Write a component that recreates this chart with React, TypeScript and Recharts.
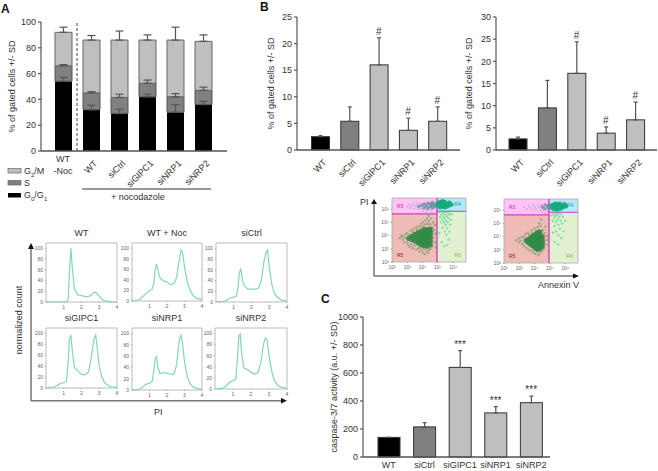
import {
  Bar,
  ComposedChart,
  ErrorBar,
  LabelList,
  Line,
  LineChart,
  ReferenceArea,
  ReferenceLine,
  Scatter,
  ScatterChart,
  XAxis,
  YAxis,
} from "recharts";

const FONT = "'Liberation Sans', Arial, sans-serif";
const INK = "#333";
const AXIS = "#555";
const BLACK = "#000";
const DARK = "#808080";
const LIGHT = "#bfbfbf";

// panel A: stacked cell cycle fractions
const cycleNames = ["WT -Noc", "WT", "siCtrl", "siGIPC1", "siNRP1", "siNRP2"];
const g1Values = [54, 32, 29, 42, 30, 36];
const g1Errors = [3, 3.5, 3.5, 2, 6, 2.5];
const sValues = [12, 13, 12.5, 10.5, 12, 11];
const sErrors = [1, 1, 2.5, 2.5, 2.5, 2.5];
const g2Values = [26, 41, 44.5, 33.5, 44, 38];
const g2Errors = [4, 3.5, 7, 4, 10, 5];

// panel B and C bars
const barNames = ["WT", "siCtrl", "siGIPC1", "siNRP1", "siNRP2"];
const barColors = [BLACK, DARK, LIGHT, LIGHT, LIGHT];
const b1Values = [2.5, 5.4, 16, 3.7, 5.4];
const b1Errors = [0.2, 2.7, 5.1, 2.3, 2.7];
const b2Values = [2.5, 9.5, 17.3, 3.8, 6.8];
const b2Errors = [0.4, 6.2, 7.1, 1.4, 4];
const bMarks = ["", "", "#", "#", "#"];
const cValues = [140, 215, 640, 315, 388];
const cErrors = [0, 30, 120, 45, 47];
const cMarks = ["", "", "***", "***", "***"];

// histograms, x is PI
const piValues = [0, 0.4, 0.6, 0.8, 1, 1.15, 1.25, 1.32, 1.4, 1.48, 1.6, 1.8, 2, 2.2, 2.4, 2.55, 2.7, 2.8, 2.9, 3, 3.15, 3.3, 3.5, 3.7, 4];
const histWT = [0, 0, 0, 0, 0, 0, 5, 55, 100, 65, 25, 13, 12, 10, 10, 13, 18, 18, 15, 11, 5, 2, 1, 0, 0];
const histWTNoc = [0, 2, 8, 14, 20, 22, 35, 60, 70, 58, 44, 38, 36, 31, 33, 45, 78, 97, 90, 65, 38, 22, 10, 5, 3];
const histCtrl = [0, 1, 3, 8, 9, 11, 30, 55, 61, 42, 30, 24, 24, 24, 26, 40, 75, 90, 97, 65, 32, 15, 8, 3, 2];
const histGIPC1 = [0, 1, 4, 8, 10, 12, 50, 90, 97, 70, 38, 31, 25, 24, 30, 55, 90, 97, 70, 40, 20, 10, 4, 2, 1];
const histNRP1 = [0, 1, 5, 10, 12, 15, 35, 55, 59, 40, 29, 31, 30, 28, 28, 45, 88, 98, 80, 50, 25, 12, 5, 3, 1];
const histNRP2 = [0, 1, 5, 12, 15, 17, 55, 95, 99, 65, 38, 35, 30, 27, 30, 48, 82, 92, 88, 60, 32, 15, 6, 3, 1];

// annexin V / PI dot plots, pairs of log10 annexin and log10 PI
type Pair = [number, number];
const core1: Pair[] = [[3.1,3.8],[3.3,3.7],[3.3,3.95],[3.5,3.6],[3.5,3.85],[3.5,4.1],[3.7,3.45],[3.7,3.7],[3.7,3.95],[3.7,4.2],[3.9,3.3],[3.9,3.55],[3.9,3.8],[3.9,4.05],[3.9,4.3],[4.1,3.25],[4.1,3.5],[4.1,3.75],[4.1,4],[4.1,4.25],[4.1,4.45],[4.3,3.2],[4.3,3.45],[4.3,3.7],[4.3,3.95],[4.3,4.2],[4.3,4.45],[4.5,3.3],[4.5,3.55],[4.5,3.8],[4.5,4.05],[4.5,4.3],[4.5,4.5]];
const halo1: Pair[] = [[2.5,3.8],[2.6,3.95],[2.7,3.7],[2.7,4],[2.8,3.5],[2.85,3.85],[2.9,4.1],[3,3.4],[3,4.2],[3.05,3.6],[3.1,3.2],[3.15,4.05],[3.2,4.4],[3.25,3.35],[3.3,3.1],[3.35,4.3],[3.4,4.5],[3.4,3],[3.5,3.25],[3.55,4.6],[3.6,2.95],[3.65,4.45],[3.7,4.7],[3.75,3.05],[3.8,2.8],[3.85,4.6],[3.9,4.85],[3.95,2.95],[4,2.7],[4,5],[4.05,4.7],[4.1,3],[4.15,2.6],[4.15,5.15],[4.2,4.85],[4.25,2.85],[4.3,5.3],[4.35,2.7],[4.35,4.9],[4.4,5.1],[4.4,5.5],[4.45,2.9],[4.5,3],[4.5,4.85],[4.55,5.3],[4.6,3.2],[4.6,3.6],[4.65,4.15],[4.65,4.6],[4.7,3.85],[4.7,5],[4.75,4.4],[4.8,3.5],[4.8,4.8],[4.85,4.15],[4.85,3.1]];
const column1: Pair[] = [[5.1,5.8],[5.15,5.4],[5.2,5.6],[5.2,5],[5.25,5.85],[5.3,5.2],[5.3,4.6],[5.35,5.7],[5.35,5.45],[5.4,5],[5.4,5.85],[5.45,5.3],[5.45,4.3],[5.5,5.6],[5.5,4.8],[5.5,5.8],[5.55,5.1],[5.55,4.05],[5.6,5.45],[5.6,4.55],[5.65,5.75],[5.65,5],[5.7,5.3],[5.7,3.7],[5.75,5.6],[5.75,4.3],[5.8,4.8],[5.8,5.85],[5.85,5.2],[5.9,5.6],[5.25,3.5],[5.4,3.2],[5.6,3.3],[5.1,4.2]];
const dense1: Pair[] = [[5,6.25],[5,6.45],[5.15,6.15],[5.15,6.35],[5.15,6.55],[5.3,6.2],[5.3,6.4],[5.3,6.6],[5.45,6.15],[5.45,6.35],[5.45,6.55],[5.6,6.2],[5.6,6.4],[5.75,6.3],[5.75,6.5],[5.9,6.35]];
const streak1: Pair[] = [[3.75,6.2],[3.95,6.3],[4.1,6.1],[4.1,6.4],[4.25,6.25],[4.35,6.05],[4.35,6.45],[4.5,6.2],[4.5,6.4],[4.65,6.1],[4.65,6.3],[4.65,6.5],[4.8,6.2],[4.8,6.4]];
const sparse1: Pair[] = [[3,6.2],[3.1,6.35],[3.2,6.1],[3.3,6.25],[3.4,6.4],[3.45,6.05],[3.55,6.25],[3.6,6.45],[3.7,6],[3.8,6.45],[3.9,6.05],[4,5.85],[4.2,5.75],[4.3,5.9],[4.5,5.7],[4.6,5.85]];

const core2: Pair[] = [[3.45,3.7],[3.6,3.55],[3.6,3.8],[3.75,3.4],[3.75,3.65],[3.75,3.9],[3.9,3.3],[3.9,3.55],[3.9,3.8],[3.9,4.05],[4.05,3.15],[4.05,3.4],[4.05,3.65],[4.05,3.9],[4.05,4.15],[4.2,3.05],[4.2,3.3],[4.2,3.55],[4.2,3.8],[4.2,4.05],[4.2,4.3],[4.35,3.1],[4.35,3.35],[4.35,3.6],[4.35,3.85],[4.35,4.1],[4.35,4.35],[4.5,3.25],[4.5,3.5],[4.5,3.75],[4.5,4]];
const halo2: Pair[] = [[2.8,3.7],[2.95,3.85],[3,3.55],[3.1,3.7],[3.15,3.95],[3.2,3.45],[3.3,3.3],[3.3,4],[3.4,4.2],[3.45,3.15],[3.55,4.3],[3.6,3],[3.65,4.15],[3.75,2.95],[3.8,4.45],[3.85,4.25],[3.9,2.8],[3.95,3],[4,4.6],[4.05,2.7],[4.1,4.4],[4.15,2.9],[4.2,4.7],[4.25,2.6],[4.3,4.5],[4.3,5],[4.35,2.8],[4.4,4.8],[4.45,5.3],[4.5,2.9],[4.55,4.5],[4.6,3.1],[4.65,3.7],[4.65,4.25],[4.7,4.75],[4.75,3.4],[4.8,4.05],[4.85,3.75]];
const column2: Pair[] = [[5.1,5.6],[5.2,5.2],[5.25,5.7],[5.3,5.45],[5.3,4.8],[5.4,5.6],[5.4,5.1],[5.4,4.4],[5.5,5.3],[5.5,5.7],[5.55,4.9],[5.55,4.1],[5.6,5.5],[5.65,4.6],[5.7,5.2],[5.7,5.7],[5.75,3.9],[5.8,5],[5.85,5.5],[5.9,4.4],[5.3,3.6],[5.55,3.4],[5.2,4.3],[6,5.2]];
const dense2: Pair[] = [[5.1,6.2],[5.15,6.4],[5.25,6.1],[5.3,6.3],[5.35,6.5],[5.45,6.05],[5.45,6.25],[5.5,6.45],[5.6,6.1],[5.6,6.3],[5.65,6.5],[5.75,6.15],[5.75,6.35],[5.9,6.25],[5.95,6.45],[6.05,6.3]];
const streak2: Pair[] = [[4.5,6.25],[4.65,6.1],[4.7,6.4],[4.85,6.2],[4.9,6.35]];
const sparse2: Pair[] = [[3.3,6.25],[3.5,6.1],[3.6,6.35],[3.7,6.2],[3.85,6.05],[3.9,6.4],[4,6.25],[4.1,6.1],[4.2,6.35],[4.3,6.2],[4.4,6.45],[4.4,6],[4.5,5.85],[4.7,5.75],[4.85,5.9]];

const logTicks = [2, 3, 4, 5, 6];
const logLabels = ["10²", "10³", "10⁴", "10⁵", "10⁶"];

const toPoints = (pairs: Pair[]) => pairs.map(([x, y]) => ({ x, y }));

function dot(r: number, fill: string, opacity = 1) {
  return (p: any) => <circle cx={p.cx} cy={p.cy} r={r} fill={fill} fillOpacity={opacity} />;
}

function SlantTick({ x, y, payload }: any) {
  if (payload.value === "WT -Noc") {
    return (
      <text x={x} y={y + 3} textAnchor="middle" fontSize={9} fill={INK}>
        <tspan x={x}>WT</tspan>
        <tspan x={x} dy={12}>-Noc</tspan>
      </text>
    );
  }
  return (
    <text x={x + 7} y={y + 5} textAnchor="end" fontSize={9} fill={INK} transform={`rotate(-45 ${x + 7} ${y + 5})`}>
      {payload.value}
    </text>
  );
}

function CyclePanel() {
  const table = cycleNames.map((name, i) => ({
    name,
    g1: g1Values[i],
    s: sValues[i],
    g2: g2Values[i],
    g1Err: [0, g1Errors[i]],
    sErr: [0, sErrors[i]],
    g2Err: [0, g2Errors[i]],
  }));
  return (
    <div style={{ position: "absolute", left: 0, top: 0 }}>
      <ComposedChart width={232} height={215} data={table} margin={{ top: 22, right: 5, bottom: 0, left: 0 }}>
        <XAxis dataKey="name" interval={0} height={64} padding={{ left: 8, right: 10 }} tick={<SlantTick />} tickLine={false} stroke={AXIS} strokeWidth={1.5} />
        <YAxis width={41} domain={[0, 100]} ticks={[0, 20, 40, 60, 80, 100]} tickSize={3} tick={{ fontSize: 9, fill: INK }} stroke={AXIS} strokeWidth={1.2} label={{ value: "% of gated cells +/- SD", angle: -90, position: "insideLeft", dx: 7, dy: 0, fontSize: 9, fill: INK, style: { textAnchor: "middle" } }} />
        <Bar dataKey="g1" stackId="cycle" fill={BLACK} barSize={17} isAnimationActive={false}>
          <ErrorBar dataKey="g1Err" width={4} stroke={AXIS} strokeWidth={1.2} />
        </Bar>
        <Bar dataKey="s" stackId="cycle" fill={DARK} stroke="#555" barSize={17} isAnimationActive={false}>
          <ErrorBar dataKey="sErr" width={4} stroke={AXIS} strokeWidth={1.2} />
        </Bar>
        <Bar dataKey="g2" stackId="cycle" fill={LIGHT} stroke="#666" barSize={17} isAnimationActive={false}>
          <ErrorBar dataKey="g2Err" width={4} stroke={AXIS} strokeWidth={1.2} />
        </Bar>
        <ReferenceLine x="WT -Noc" position="end" stroke="#666" strokeWidth={1.2} strokeDasharray="3 2" />
      </ComposedChart>
    </div>
  );
}

type SinglePanelProps = {
  left: number;
  top: number;
  width: number;
  height: number;
  axisWidth: number;
  marginTop: number;
  marginRight: number;
  footer: number;
  padLeft: number;
  padRight: number;
  barSize: number;
  values: number[];
  errors: number[];
  marks: string[];
  yMax: number;
  yTicks: number[];
  yLabel: string;
  labelDx: number;
  slanted: boolean;
};

function SinglePanel(props: SinglePanelProps) {
  const table = barNames.map((name, i) => ({
    name,
    value: props.values[i],
    err: [0, props.errors[i]],
    top: props.values[i] + props.errors[i],
    mark: props.marks[i],
    fill: barColors[i],
  }));
  return (
    <div style={{ position: "absolute", left: props.left, top: props.top }}>
      <ComposedChart width={props.width} height={props.height} data={table} margin={{ top: props.marginTop, right: props.marginRight, bottom: 0, left: 0 }}>
        <XAxis
          dataKey="name"
          interval={0}
          height={props.footer}
          padding={{ left: props.padLeft, right: props.padRight }}
          tick={props.slanted ? <SlantTick /> : { fontSize: 9, fill: INK }}
          tickLine={false}
          tickSize={props.slanted ? 6 : 0}
          tickMargin={props.slanted ? 2 : 5}
          stroke={AXIS}
          strokeWidth={1.5}
        />
        <YAxis
          width={props.axisWidth}
          domain={[0, props.yMax]}
          ticks={props.yTicks}
          tickSize={3}
          tick={{ fontSize: 9, fill: INK }}
          stroke={AXIS}
          strokeWidth={1.2}
          label={{ value: props.yLabel, angle: -90, position: "insideLeft", dx: props.labelDx, dy: 0, fontSize: 9, fill: INK, style: { textAnchor: "middle" } }}
        />
        <Bar dataKey="value" fill={LIGHT} stroke="#333" strokeWidth={1} barSize={props.barSize} isAnimationActive={false} shape={(p: any) => <rect x={p.x} y={p.y} width={p.width} height={p.height} fill={p.payload.fill} stroke="#333" />}>
          <ErrorBar dataKey="err" width={2} stroke={AXIS} strokeWidth={1.2} />
        </Bar>
        <Line dataKey="top" stroke="none" dot={false} isAnimationActive={false}>
          <LabelList dataKey="mark" position="top" offset={3} fontSize={10} fill={INK} />
        </Line>
      </ComposedChart>
    </div>
  );
}

function Histogram({ title, values, x0, x1, y0, y1 }: { title: string; values: number[]; x0: number; x1: number; y0: number; y1: number }) {
  const table = piValues.map((pi, i) => ({ pi, count: values[i] }));
  const axisWidth = 12;
  return (
    <div style={{ position: "absolute", left: x0 - axisWidth, top: y0 - 2 }}>
      <div style={{ position: "absolute", left: axisWidth - 10, width: x1 - x0 + 20, top: -13, textAlign: "center", fontSize: 9, color: INK }}>{title}</div>
      <LineChart width={x1 - x0 + axisWidth + 3} height={y1 - y0 + 12} data={table} margin={{ top: 2, right: 3, bottom: 0, left: 0 }}>
        <XAxis dataKey="pi" type="number" domain={[0, 4]} ticks={[1, 2, 3, 4]} height={10} tickSize={1} tick={{ fontSize: 5, fill: "#666" }} axisLine={false} stroke="#aaa" />
        <YAxis width={axisWidth} domain={[0, 110]} ticks={[0, 20, 40, 60, 80, 100]} tickSize={1} tick={{ fontSize: 5, fill: "#666" }} axisLine={false} stroke="#aaa" />
        <ReferenceArea x1={0} x2={4} y1={0} y2={110} fill="none" stroke="#bbb" strokeWidth={1} />
        <Line dataKey="count" type="linear" stroke="#84d9aa" strokeWidth={1.2} dot={false} isAnimationActive={false} />
      </LineChart>
    </div>
  );
}

const tinyLabel = (value: string, position: string, fill: string) => ({ value, position, fontSize: 5, fill, offset: 5 });

type DotPanelProps = {
  x0: number;
  y0: number;
  corner: number;
  split: number;
  core: Pair[];
  halo: Pair[];
  column: Pair[];
  dense: Pair[];
  streak: Pair[];
  sparse: Pair[];
};

function DotPanel({ x0, y0, split, corner, core, halo, column, dense, streak, sparse }: DotPanelProps) {
  const axisWidth = 14;
  const xMax = 6.84;
  const yMax = 6.85;
  return (
    <div style={{ position: "absolute", left: x0 - axisWidth, top: y0 - 1 }}>
      <ScatterChart width={74 + axisWidth + 3} height={64 + 12} margin={{ top: 1, right: 3, bottom: 0, left: 0 }}>
        <XAxis dataKey="x" type="number" domain={[2, xMax]} ticks={logTicks} height={11} tickSize={1} tick={{ fontSize: 5, fill: "#666" }} tickFormatter={(v: number) => logLabels[logTicks.indexOf(v)]} axisLine={false} stroke="#999" />
        <YAxis dataKey="y" type="number" domain={[2, yMax]} ticks={logTicks} width={axisWidth} tickSize={1} tick={{ fontSize: 5, fill: "#666" }} tickFormatter={(v: number) => logLabels[logTicks.indexOf(v)]} axisLine={false} stroke="#999" />
        <ReferenceArea x1={2} x2={corner} y1={split} y2={yMax} fill="#ffc4f6" fillOpacity={1} label={tinyLabel("R3", "insideLeft", "#d81ab0") as any} />
        <ReferenceArea x1={corner} x2={xMax} y1={split + 0.2} y2={yMax} fill="#b6e6f8" fillOpacity={1} label={tinyLabel("R4", "insideRight", "#2090c0") as any} />
        <ReferenceArea x1={2} x2={corner} y1={2} y2={split} fill="#eebdb5" fillOpacity={1} label={tinyLabel("R5", "insideBottomLeft", "#a01030") as any} />
        <ReferenceArea x1={corner} x2={xMax} y1={2} y2={split + 0.2} fill="#e0f0d0" fillOpacity={1} label={tinyLabel("R6", "insideBottomRight", "#90b030") as any} />
        <Scatter data={toPoints(sparse)} shape={dot(0.9, "#8e86b8", 0.55)} isAnimationActive={false} />
        <Scatter data={toPoints(streak)} shape={dot(1.8, "#5f8a9c", 0.75)} isAnimationActive={false} />
        <Scatter data={toPoints(halo)} shape={dot(1.3, "#4f8a5c", 0.45)} isAnimationActive={false} />
        <Scatter data={toPoints(core)} shape={dot(2.6, "#2f8a45", 0.9)} isAnimationActive={false} />
        <Scatter data={toPoints(column)} shape={dot(1.2, "#3fcf85", 0.55)} isAnimationActive={false} />
        <Scatter data={toPoints(dense)} shape={dot(2.2, "#16aa7a", 0.95)} isAnimationActive={false} />
        <ReferenceLine segment={[{ x: 2, y: split }, { x: corner, y: split }]} stroke="#d040c0" strokeWidth={1.2} />
        <ReferenceLine segment={[{ x: corner, y: split + 0.2 }, { x: xMax, y: split + 0.2 }]} stroke="#c060c8" strokeWidth={1.2} />
        <ReferenceLine segment={[{ x: corner, y: 2 }, { x: corner, y: yMax }]} stroke="#d040c0" strokeWidth={1.4} />
        <ReferenceArea x1={2} x2={xMax} y1={2} y2={yMax} fill="none" stroke="#aaa" strokeWidth={0.8} />
      </ScatterChart>
    </div>
  );
}

function Note({ x, y, size = 9, bold, children }: any) {
  return (
    <div style={{ position: "absolute", left: x, top: y, fontSize: size, fontWeight: bold ? 700 : 400, color: bold ? "#111" : INK, lineHeight: 1, whiteSpace: "nowrap" }}>
      {children}
    </div>
  );
}

function Sub({ children }: any) {
  return <sub style={{ fontSize: 6, lineHeight: 0 }}>{children}</sub>;
}

export default function App() {
  return (
    <div style={{ position: "absolute", left: 0, top: 0, width: 658, height: 471, background: "#fff", fontFamily: FONT, overflow: "hidden" }}>
      <CyclePanel />
      <SinglePanel left={250} top={0} width={215} height={200} axisWidth={47} marginTop={17} marginRight={5} footer={50} padLeft={8.5} padRight={8} barSize={18} values={b1Values} errors={b1Errors} marks={bMarks} yMax={25} yTicks={[0, 5, 10, 15, 20, 25]} yLabel="% of gated cells +/- SD" labelDx={16} slanted />
      <SinglePanel left={462} top={0} width={196} height={200} axisWidth={34} marginTop={17} marginRight={1} footer={50} padLeft={7} padRight={7} barSize={18} values={b2Values} errors={b2Errors} marks={bMarks} yMax={30} yTicks={[0, 5, 10, 15, 20, 25, 30]} yLabel="% of gated cells +/- SD" labelDx={2} slanted />
      <SinglePanel left={325} top={305} width={230} height={166} axisWidth={38} marginTop={12} marginRight={5} footer={14} padLeft={8} padRight={1} barSize={22} values={cValues} errors={cErrors} marks={cMarks} yMax={1000} yTicks={[0, 200, 400, 600, 800, 1000]} yLabel="caspase-3/7 activity (a.u. +/- SD)" labelDx={4} slanted={false} />

      <Histogram title="WT" values={histWT} x0={46} x1={117} y0={243} y1={302} />
      <Histogram title="WT + Noc" values={histWTNoc} x0={132} x1={202} y0={243} y1={301} />
      <Histogram title="siCtrl" values={histCtrl} x0={216} x1={287} y0={243} y1={302} />
      <Histogram title="siGIPC1" values={histGIPC1} x0={46} x1={117} y0={328} y1={388} />
      <Histogram title="siNRP1" values={histNRP1} x0={132} x1={202} y0={328} y1={390} />
      <Histogram title="siNRP2" values={histNRP2} x0={215} x1={287} y0={328} y1={389} />

      <DotPanel x0={392} y0={198} split={5.64} corner={4.94} core={core1} halo={halo1} column={column1} dense={dense1} streak={streak1} sparse={sparse1} />
      <DotPanel x0={504} y0={199} split={5.64} corner={4.94} core={core2} halo={halo2} column={column2} dense={dense2} streak={streak2} sparse={sparse2} />

      <svg width={658} height={471} style={{ position: "absolute", left: 0, top: 0, pointerEvents: "none" }}>
        <line x1={82} x2={211} y1={189} y2={189} stroke="#333" strokeWidth={1} />
        <rect x={8} y={168.5} width={13} height={4.5} fill={LIGHT} stroke="#666" strokeWidth={0.7} />
        <rect x={8} y={180.5} width={13} height={4.5} fill={DARK} stroke="#666" strokeWidth={0.7} />
        <rect x={8} y={193} width={13} height={4.5} fill={BLACK} />
        <line x1={31} x2={31} y1={248} y2={401} stroke="#333" strokeWidth={1} />
        <polygon points="31,243 28,249 34,249" fill="#111" />
        <line x1={31} x2={282} y1={400.7} y2={400.7} stroke="#777" strokeWidth={1.6} />
        <polygon points="287,400.7 281,398 281,403.4" fill="#111" />
        <line x1={374} x2={374} y1={203} y2={276} stroke="#333" strokeWidth={1} />
        <polygon points="374,199 371,204 377,204" fill="#111" />
        <line x1={374} x2={574} y1={276} y2={276} stroke="#333" strokeWidth={1} />
        <polygon points="579,276 573,273.5 573,278.5" fill="#111" />
      </svg>

      <Note x={1} y={3} size={12} bold>A</Note>
      <Note x={260} y={1} size={12} bold>B</Note>
      <Note x={321} y={293} size={12} bold>C</Note>
      <Note x={24} y={166.5}>G<Sub>2</Sub>/M</Note>
      <Note x={24} y={178.5}>S</Note>
      <Note x={24} y={190.5}>G<Sub>0</Sub>/G<Sub>1</Sub></Note>
      <Note x={111} y={193}>+ nocodazole</Note>
      <Note x={360} y={197.5}>PI</Note>
      <Note x={538} y={280.5}>Annexin V</Note>
      <Note x={154} y={407.5}>PI</Note>
      <div style={{ position: "absolute", left: 19, top: 320, width: 0, height: 0 }}>
        <div style={{ transform: "translate(-50%, -50%) rotate(-90deg)", fontSize: 9, color: INK, whiteSpace: "nowrap", width: "max-content" }}>normalized count</div>
      </div>
    </div>
  );
}
